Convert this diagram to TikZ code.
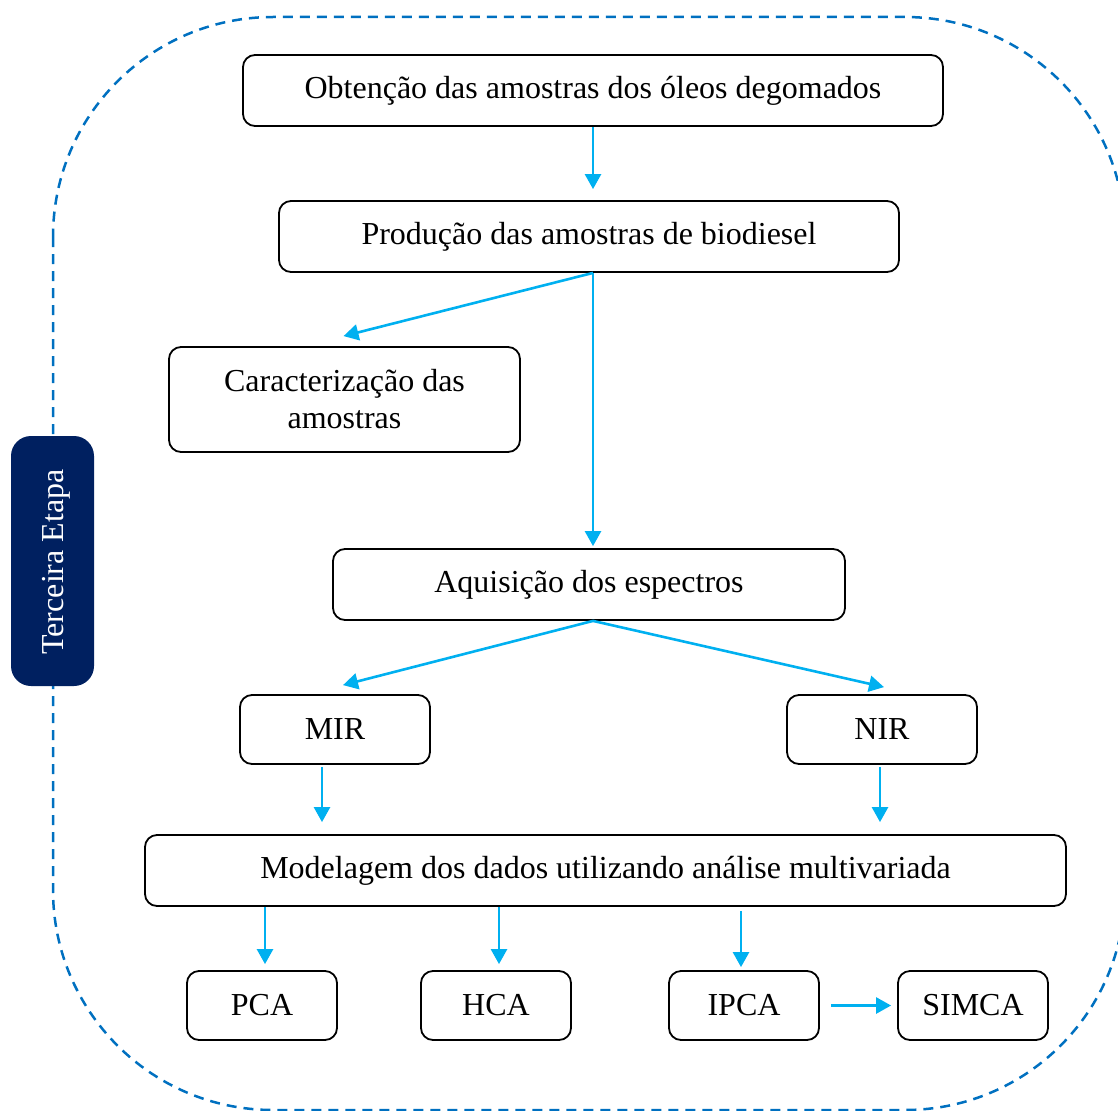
\documentclass[tikz,border=0pt]{standalone}
\usepackage{fontspec}
\setmainfont{Liberation Serif}
\usetikzlibrary{arrows.meta,calc}
\definecolor{arrc}{HTML}{00B0F0}
\definecolor{dashc}{HTML}{0070C0}
\definecolor{navyc}{HTML}{002060}
\begin{document}
\begin{tikzpicture}[x=1pt,y=-1pt,
  box/.style={draw, line width=1.8pt, rounded corners=12pt, font=\fontsize{32}{37}\selectfont, inner sep=0pt, align=center},
  arr/.style={draw=arrc, line width=2.6pt, -{Triangle[length=15pt,width=16pt]}},
  border/.style={draw=dashc, line width=2.5pt, dash pattern=on 10pt off 7pt, rounded corners=220pt},
  tagbox/.style={fill=navyc, rounded corners=20pt, inner sep=0pt},
  tagtext/.style={text=white, rotate=90, inner sep=0pt, font=\fontsize{32}{37}\selectfont}
]
\useasboundingbox (0,0) rectangle (1118,1110);
\begin{scope}
  \clip (0,0) rectangle (1118,1110);
  \draw[border] (53,17) rectangle (1125,1110);
\end{scope}

\node[tagbox, minimum width=83pt, minimum height=250pt] (lab) at (52.5,561) {};
\node[tagtext] (labt) at ($(lab.center)+(4,1)$) {Terceira Etapa};

\node[box, minimum width=700pt, minimum height=71pt] (obt) at (593,90.5) {Obtenção das amostras dos óleos degomados};
\node[box, minimum width=620pt, minimum height=71pt] (prod) at (589,236.5) {Produção das amostras de biodiesel};
\node[box, minimum width=351pt, minimum height=105pt] (car) at (344.5,399.5) {Caracterização das\\amostras};
\node[box, minimum width=512pt, minimum height=71pt] (aq) at (589,584.5) {Aquisição dos espectros};
\node[box, minimum width=190pt, minimum height=69pt] (mir) at (335,729.5) {MIR};
\node[box, minimum width=190pt, minimum height=69pt] (nir) at (882,729.5) {NIR};
\node[box, minimum width=921pt, minimum height=71pt] (mod) at (605.5,870.5) {Modelagem dos dados utilizando análise multivariada};
\node[box, minimum width=150pt, minimum height=69pt] (pca) at (262,1005.5) {PCA};
\node[box, minimum width=150pt, minimum height=69pt] (hca) at (496,1005.5) {HCA};
\node[box, minimum width=150pt, minimum height=69pt] (ipca) at (744,1005.5) {IPCA};
\node[box, minimum width=150pt, minimum height=69pt] (simca) at (973,1005.5) {SIMCA};

% arrows
\draw[arr, shorten >=11pt] (obt.south) -- (obt.south |- prod.north);
\coordinate (p) at (obt.south |- prod.south);
\draw[arr, shorten >=2pt] (p) -- (p |- aq.north);
\draw[arr] (p) -- ($(car.north)+(-1,-10)$);
\coordinate (q) at (obt.south |- aq.south);
\draw[arr] (q) -- ($(mir.north)+(8,-9)$);
\draw[arr] (q) -- ($(nir.north)+(2,-7)$);
\coordinate (m1) at ($(mir.south)+(-13,2)$);
\draw[arr, shorten >=12pt] (m1) -- (m1 |- mod.north);
\coordinate (n1) at ($(nir.south)+(-2,2)$);
\draw[arr, shorten >=12pt] (n1) -- (n1 |- mod.north);
\coordinate (c1) at ($(mod.south -| pca.north)+(3,0)$);
\draw[arr, shorten >=6pt] (c1) -- (c1 |- pca.north);
\coordinate (c2) at ($(mod.south -| hca.north)+(3,0)$);
\draw[arr, shorten >=6pt] (c2) -- (c2 |- hca.north);
\coordinate (c3) at ($(mod.south -| ipca.north)+(-3,4)$);
\draw[arr, shorten >=3pt] (c3) -- (c3 |- ipca.north);
\draw[arr, shorten >=6pt] ($(ipca.east)+(11,0)$) -- (simca.west);
\end{tikzpicture}
\end{document}
